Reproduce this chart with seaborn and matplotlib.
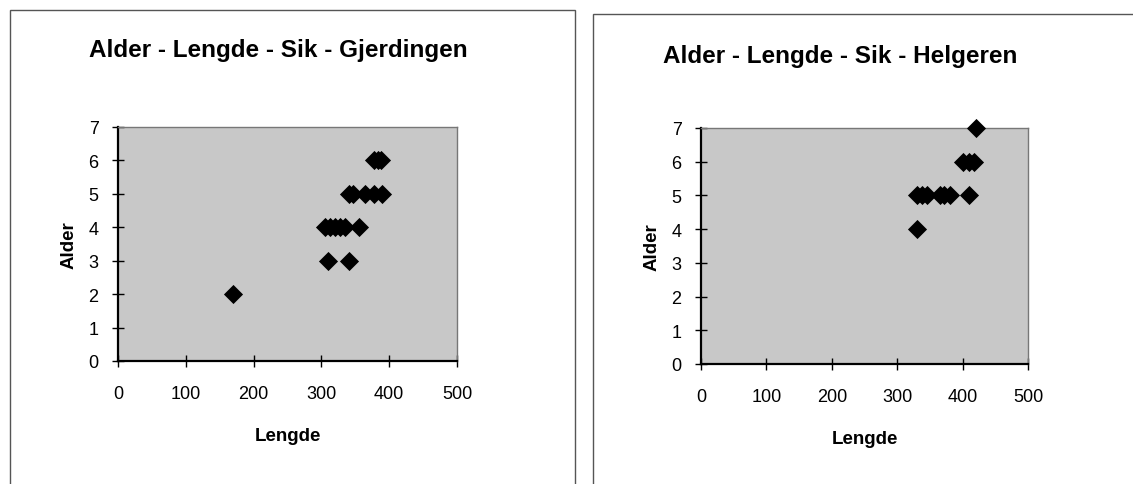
import pandas as pd
import seaborn as sns
import matplotlib.pyplot as plt
from matplotlib.patches import Rectangle

# Gjerdingen data (length, age)
lengde_gj = [170, 310, 340, 305, 312, 320, 328, 335, 355,
             340, 347, 365, 378, 390, 377, 383, 388]
alder_gj = [2, 3, 3, 4, 4, 4, 4, 4, 4,
            5, 5, 5, 5, 5, 6, 6, 6]

# Helgeren data (length, age)
lengde_he = [330, 330, 338, 345, 365, 372, 380, 410, 400, 410, 418, 420]
alder_he = [4, 5, 5, 5, 5, 5, 5, 5, 6, 6, 6, 7]

titles = ['Alder - Lengde - Sik - Gjerdingen', 'Alder - Lengde - Sik - Helgeren']
xticks = [0, 100, 200, 300, 400, 500]
yticks = [0, 1, 2, 3, 4, 5, 6, 7]

df_gj = pd.DataFrame({'Lengde': lengde_gj, 'Alder': alder_gj})
df_he = pd.DataFrame({'Lengde': lengde_he, 'Alder': alder_he})

sns.set_style('white')
plt.rcParams['font.family'] = ['Liberation Sans', 'DejaVu Sans']
plt.rcParams['text.color'] = 'black'
plt.rcParams['axes.labelcolor'] = 'black'
plt.rcParams['xtick.color'] = 'black'
plt.rcParams['ytick.color'] = 'black'

fig = plt.figure(figsize=(11.33, 4.85), dpi=100)

# panel frames (bottom cut off, right panel runs off the edge)
fig.patches.append(Rectangle((10 / 1133, -0.05), (575 - 10) / 1133, 1.05 - 11 / 485,
                             transform=fig.transFigure, fill=False,
                             edgecolor='#555555', linewidth=1.0))
fig.patches.append(Rectangle((593 / 1133, -0.05), 0.5, 1.05 - 15 / 485,
                             transform=fig.transFigure, fill=False,
                             edgecolor='#555555', linewidth=1.0))

axes_pos = [
    [118 / 1133, 1 - 362 / 485, 339 / 1133, 234 / 485],
    [701 / 1133, 1 - 365 / 485, 327 / 1133, 236 / 485],
]
title_y = [1 - 50 / 485, 1 - 57 / 485]
title_x = [278 / 1133, 840 / 1133]

for i, df in enumerate([df_gj, df_he]):
    ax = fig.add_axes(axes_pos[i])
    ax.set_facecolor('#c8c8c8')
    sns.scatterplot(data=df, x='Lengde', y='Alder', marker='D', s=95,
                    color='black', edgecolor='black', linewidth=0, ax=ax,
                    clip_on=False, zorder=3)
    ax.set_xlim(0, 500)
    ax.set_ylim(0, 7)
    ax.set_xticks(xticks)
    ax.set_yticks(yticks)
    ax.tick_params(axis='both', bottom=True, left=True, direction='inout',
                   length=8, width=1, labelsize=13, color='black')
    ax.tick_params(axis='x', pad=13)
    ax.tick_params(axis='y', pad=10)
    for side in ['top', 'right']:
        ax.spines[side].set_color('#777777')
        ax.spines[side].set_linewidth(1)
    for side in ['left', 'bottom']:
        ax.spines[side].set_color('black')
        ax.spines[side].set_linewidth(1.6)
    ax.set_xlabel('Lengde', fontsize=13.5, fontweight='bold', labelpad=18)
    ax.set_ylabel('Alder', fontsize=13.5, fontweight='bold', labelpad=8)
    fig.text(title_x[i], title_y[i], titles[i], ha='center', va='center',
             fontsize=17.5, fontweight='bold')

plt.savefig('out.png', dpi=100)
